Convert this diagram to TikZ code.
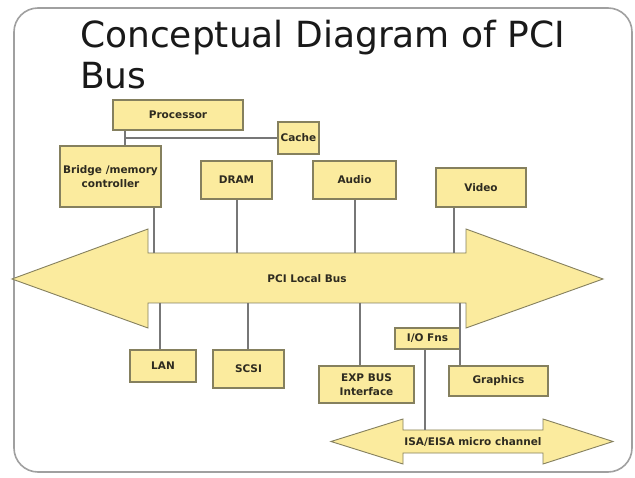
\documentclass[tikz,border=0pt]{standalone}
\usepackage{fontspec}
\setmainfont{DejaVu Sans}
\definecolor{boxfill}{HTML}{FBEB9E}
\definecolor{boxline}{HTML}{85805E}
\definecolor{wire}{HTML}{777777}
\definecolor{framec}{HTML}{A0A0A0}
\definecolor{txt}{HTML}{2E2B20}
\tikzset{
  box/.style={draw=boxline, fill=boxfill, line width=1.1pt, inner sep=1pt,
    align=center, text=txt, font=\fontsize{10.5}{13.5}\selectfont\bfseries},
  busshape/.style={draw=boxline, fill=boxfill, line width=0.9pt, line join=miter},
  wireline/.style={draw=wire, line width=1.3pt},
  buslabel/.style={text=txt, font=\fontsize{10.5}{13}\selectfont\bfseries, inner sep=0pt}
}
\begin{document}
\begin{tikzpicture}[x=1pt,y=-1pt]
\useasboundingbox (0,0) rectangle (635,478);
\fill[white] (0,0) rectangle (635,478);
% frame
\draw[framec, line width=1.6pt, rounded corners=24pt] (14,8) rectangle (632,472);
% title
\node[anchor=north west, inner sep=0pt, align=left, text=black!90,
  font=\fontsize{36}{41}\selectfont] (title) at (80,20)
  {Conceptual Diagram of PCI\\Bus};
% PCI bus
\path[busshape] (12,279) -- (148,229) -- (148,253) -- (466,253) -- (466,229)
  -- (603,279) -- (466,328) -- (466,303) -- (148,303) -- (148,328) -- cycle;
\node[buslabel] (pci) at (307,279) {PCI Local Bus};
% ISA bus
\path[busshape] (331,441.5) -- (403,419) -- (403,430) -- (543,430) -- (543,419)
  -- (613,441.5) -- (543,464) -- (543,453) -- (403,453) -- (403,464) -- cycle;
\node[buslabel] (isa) at (473,441.5) {ISA/EISA micro channel};
% upper boxes
\node[box, minimum width=130pt, minimum height=30pt] (proc) at (178,115) {Processor};
\node[box, minimum width=41pt, minimum height=32pt, inner sep=0pt] (cache) at (298.5,138) {Cache};
\node[box, minimum width=101pt, minimum height=61pt, inner sep=0pt] (bridge) at (110.5,176.5) {Bridge /memory\\controller};
\node[box, minimum width=71pt, minimum height=38pt] (dram) at (236.5,180) {DRAM};
\node[box, minimum width=83pt, minimum height=38pt] (audio) at (354.5,180) {Audio};
\node[box, minimum width=90pt, minimum height=39pt] (video) at (481,187.5) {Video};
% lower boxes
\node[box, minimum width=66pt, minimum height=32pt] (lan) at (163,366) {LAN};
\node[box, minimum width=71pt, minimum height=38pt] (scsi) at (248.5,369) {SCSI};
\node[box, minimum width=95pt, minimum height=37pt] (exp) at (366.5,384.5) {EXP BUS\\Interface};
\node[box, minimum width=99pt, minimum height=30pt] (gfx) at (498.5,381) {Graphics};
\node[box, minimum width=65pt, minimum height=21pt] (io) at (427.5,338.5) {I/O Fns};
% junction coordinates
\coordinate (pj) at (125,138);
\coordinate (c1) at (154,253);
\coordinate (c2) at (237,253);
\coordinate (c3) at (355,253);
\coordinate (c4) at (454,253);
\coordinate (c5) at (160,303);
\coordinate (c6) at (248,303);
\coordinate (c7) at (360,303);
\coordinate (c8) at (460,303);
\coordinate (c9) at (425,430);
% connectors
\draw[wireline] (proc.south -| pj) -- (bridge.north -| pj);
\draw[wireline] (pj) -- (cache.west);
\draw[wireline] (bridge.south -| c1) -- (c1);
\draw[wireline] (dram.south -| c2) -- (c2);
\draw[wireline] (audio.south -| c3) -- (c3);
\draw[wireline] (video.south -| c4) -- (c4);
\draw[wireline] (c5) -- (lan.north -| c5);
\draw[wireline] (c6) -- (scsi.north -| c6);
\draw[wireline] (c7) -- (exp.north -| c7);
\draw[wireline] (c8) -- (gfx.north -| c8);
\draw[wireline] (io.south -| c9) -- (c9);
\end{tikzpicture}
\end{document}
